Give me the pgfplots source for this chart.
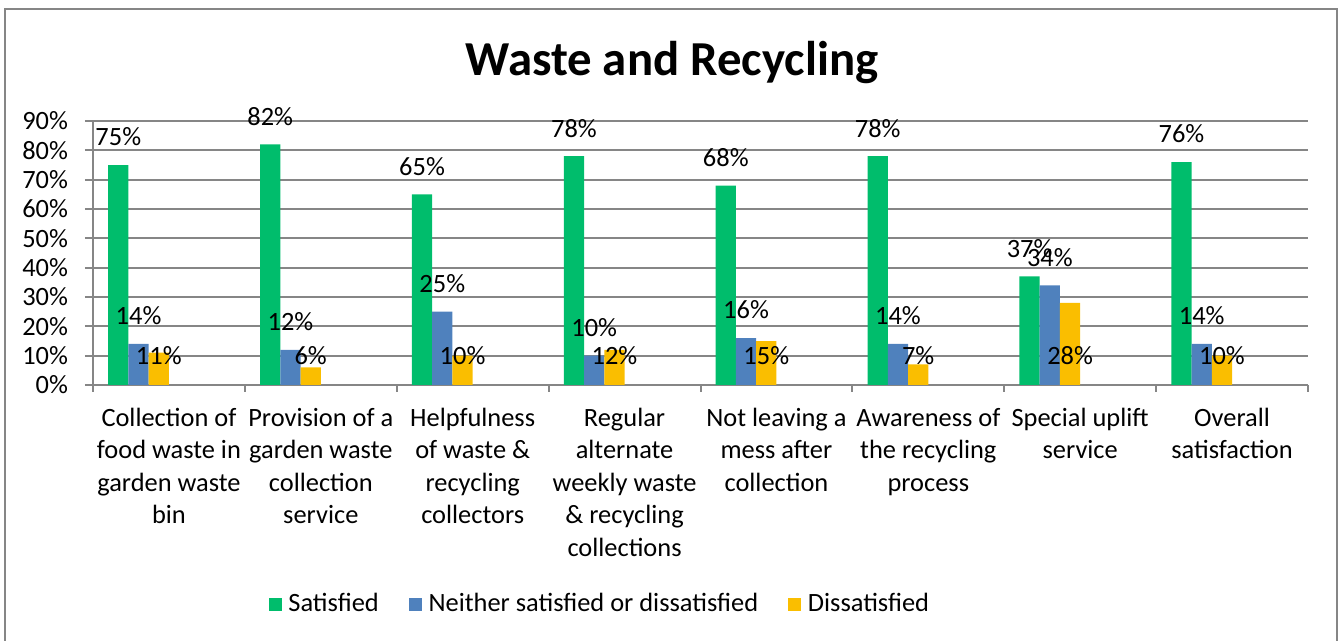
\documentclass[border=0pt]{standalone}
\usepackage{fontspec}
\setmainfont{Carlito}
\usepackage{pgfplots}
\pgfplotsset{compat=1.18}
\definecolor{cgreen}{RGB}{0,189,108}
\definecolor{cblue}{RGB}{79,129,189}
\definecolor{cyellow}{RGB}{250,190,0}
\definecolor{cgrid}{RGB}{134,134,134}
\newcommand{\lab}{\fontsize{13.2}{16.25}\selectfont}
\begin{document}
\begin{tikzpicture}
\useasboundingbox (-46.5pt,-128pt) rectangle (625pt,192.5pt);
\draw[cgrid, line width=1pt] (-44pt,-140pt) rectangle (622pt,188pt);
\node[font=\fontsize{24.4}{28}\selectfont\bfseries] at (289.5pt,161pt) {Waste and Recycling};
\begin{axis}[
  at={(0pt,0pt)}, anchor=south west,
  scale only axis, width=607.5pt, height=132pt,
  xmin=-0.5, xmax=7.5, ymin=0, ymax=90,
  ybar, bar width=0.13333,
  axis x line*=bottom, axis y line*=left,
  axis line style={cgrid, line width=1pt},
  ytick={0,10,...,90},
  yticklabel={\pgfmathprintnumber{\tick}\%},
  ymajorgrids, grid style={cgrid, line width=0.9pt},
  xtick={0,...,7},
  xticklabels={{Collection of\\food waste in\\garden waste\\bin},
    {Provision of a\\garden waste\\collection\\service},
    {Helpfulness\\of waste \&\\recycling\\collectors},
    {Regular\\alternate\\weekly waste\\\& recycling\\collections},
    {Not leaving a\\mess after\\collection},
    {Awareness of\\the recycling\\process},
    {Special uplift\\service},
    {Overall\\satisfaction}},
  minor xtick={-0.5,0.5,...,7.5},
  tick align=outside,
  major tick length=4pt, minor tick length=3.5pt,
  tick style={cgrid, line width=1pt},
  major x tick style={draw=none},
  /pgf/number format/assume math mode=true,
  tick label style={font=\lab},
  yticklabel style={xshift=-5pt},
  xticklabel style={align=center, anchor=north, yshift=-4pt},
  clip=false,
  legend style={at={(0.418,-0.83)}, anchor=center, draw=none, fill=none,
    legend columns=3, font=\lab,
    /tikz/every odd column/.append style={column sep=1.5pt},
    /tikz/every even column/.append style={column sep=13pt}},
]
\addplot[forget plot, fill=cgreen, draw=none, bar shift=-0.33333,
  nodes near coords={\pgfmathprintnumber{\pgfplotspointmeta}\%},
  every node near coord/.append style={font=\lab, anchor=center, yshift=14pt}]
  coordinates {(0,75) (1,82) (2,65) (3,78) (4,68) (5,78) (6,37) (7,76)};
\addplot[forget plot, fill=cblue, draw=none, bar shift=-0.2,
  nodes near coords={\pgfmathprintnumber{\pgfplotspointmeta}\%},
  every node near coord/.append style={font=\lab, anchor=center, yshift=14pt}]
  coordinates {(0,14) (1,12) (2,25) (3,10) (4,16) (5,14) (6,34) (7,14)};
\addplot[forget plot, fill=cyellow, draw=none, bar shift=-0.06667]
  coordinates {(0,11) (1,6) (2,10) (3,12) (4,15) (5,7) (6,28) (7,10)};
\addplot[forget plot, fill=none, draw=none, bar shift=-0.06667,
  point meta=explicit,
  nodes near coords={\pgfmathprintnumber{\pgfplotspointmeta}\%},
  every node near coord/.append style={font=\lab, anchor=center}]
  coordinates {(0,10) [11] (1,10) [6] (2,10) [10] (3,10) [12] (4,10) [15] (5,10) [7] (6,10) [28] (7,10) [10]};
\addlegendimage{legend image code/.code={\fill[cgreen] (0pt,-3pt) rectangle (6pt,3pt);}}
\addlegendentry{Satisfied}
\addlegendimage{legend image code/.code={\fill[cblue] (0pt,-3pt) rectangle (6pt,3pt);}}
\addlegendentry{Neither satisfied or dissatisfied}
\addlegendimage{legend image code/.code={\fill[cyellow] (0pt,-3pt) rectangle (6pt,3pt);}}
\addlegendentry{Dissatisfied}
\end{axis}
\end{tikzpicture}
\end{document}
